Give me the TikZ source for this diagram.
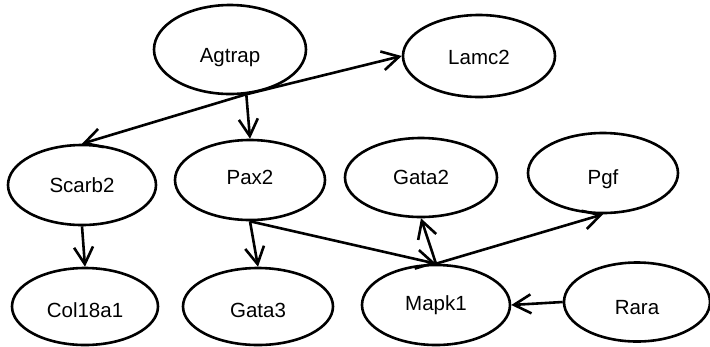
\documentclass[tikz,border=0pt]{standalone}
\usepackage{fontspec}
\setmainfont{Liberation Sans}
\usetikzlibrary{arrows.meta,shapes.geometric}
\begin{document}
\begin{tikzpicture}[x=1bp,y=-1bp,
  gene/.style={ellipse,draw,line width=2.6bp,inner sep=0pt,
    font=\fontsize{20.5bp}{24bp}\selectfont,
    text height=14.7bp,text depth=0bp},
  edge/.style={line width=2.6bp,-{Straight Barb[length=17bp,width=19bp]}}]
\useasboundingbox (0,0) rectangle (710,346);

% genes
\node[gene,minimum width=152bp,minimum height=89bp,text height=26.7bp] (Agtrap) at (230,49.5) {Agtrap};
\node[gene,minimum width=152bp,minimum height=82bp,text height=16.7bp] (Lamc2) at (479,56) {Lamc2};
\node[gene,minimum width=148bp,minimum height=80bp] (Scarb2) at (82,185) {Scarb2};
\node[gene,minimum width=150bp,minimum height=80bp,text depth=5bp] (Pax2) at (250,180) {Pax2};
\node[gene,minimum width=152bp,minimum height=79bp] (Gata2) at (421,177.5) {Gata2};
\node[gene,minimum width=150bp,minimum height=80bp,text height=22.7bp] (Pgf) at (603,173) {Pgf};
\node[gene,minimum width=146bp,minimum height=77bp,text height=22.7bp] (Col18a1) at (85,306.5) {Col18a1};
\node[gene,minimum width=150bp,minimum height=77bp,text height=22.7bp] (Gata3) at (258,306.5) {Gata3};
\node[gene,minimum width=148bp,minimum height=80bp,text depth=4bp] (Mapk1) at (436,305) {Mapk1};
\node[gene,minimum width=146bp,minimum height=79bp,text height=24.7bp] (Rara) at (637,302) {Rara};

% interactions
\draw[edge] (Agtrap.-70) -- (Lamc2.west);
\draw[edge] (Agtrap.-70) -- (Scarb2.north);
\draw[edge] (Agtrap.-70) -- (Pax2.north);
\draw[edge] (Scarb2.south) -- (Col18a1.north);
\draw[edge] (Pax2.south) -- (Gata3.north);
\draw[edge] (Pax2.south) -- (Mapk1.north);
\draw[edge] (Mapk1.north) -- (Gata2.south);
\draw[edge] (Mapk1.north) -- (Pgf.south);
\draw[edge] (Rara.west) -- (Mapk1.east);
\end{tikzpicture}
\end{document}
